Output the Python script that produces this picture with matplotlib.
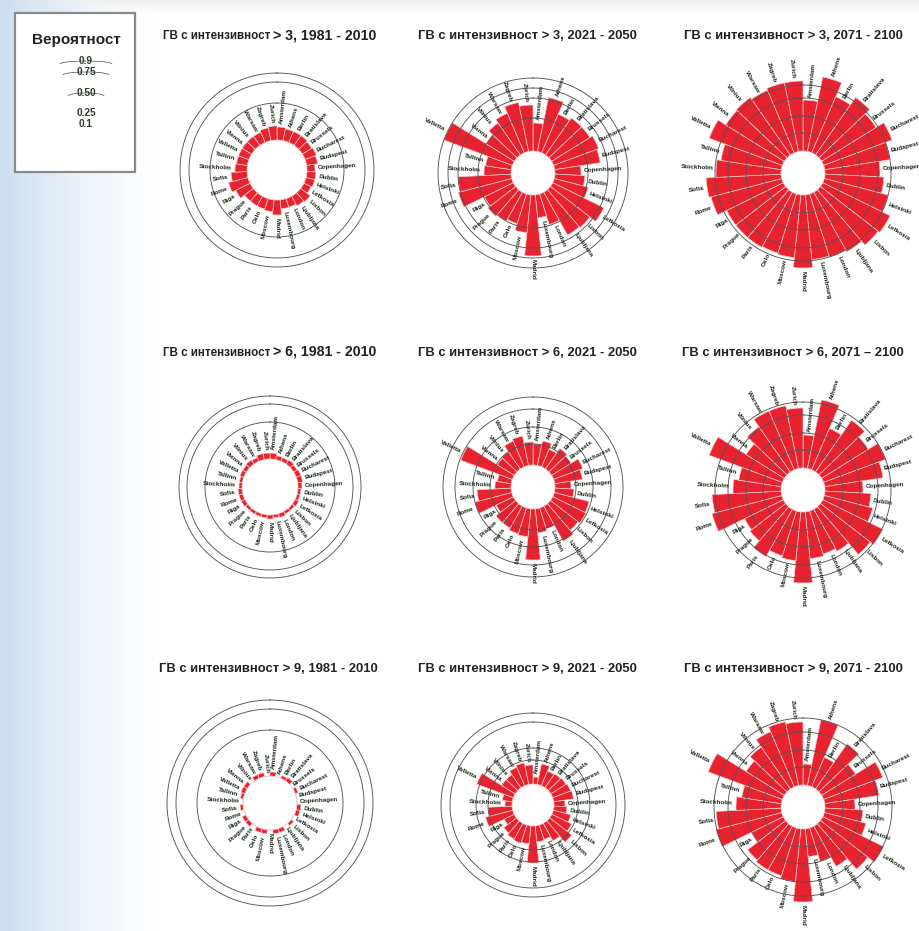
import numpy as np
import matplotlib.pyplot as plt
from matplotlib.patches import Rectangle, Arc

plt.rcParams['font.family'] = ['Liberation Sans', 'DejaVu Sans']

W, H = 920, 931

cities = ['Amsterdam', 'Athens', 'Berlin', 'Bratislava', 'Brussels', 'Bucharest',
          'Budapest', 'Copenhagen', 'Dublin', 'Helsinki', 'Lefkosia', 'Lisbon',
          'Ljubljana', 'London', 'Luxembourg', 'Madrid', 'Moscow', 'Oslo', 'Paris',
          'Prague', 'Riga', 'Rome', 'Sofia', 'Stockholm', 'Tallinn', 'Valletta',
          'Vienna', 'Vilnius', 'Warsaw', 'Zagreb', 'Zurich']

thresholds = ['> 3', '> 6', '> 9']
periods = ['1981 - 2010', '2021 - 2050', '2071 - 2100']

# bar lengths above the inner hole (radial units), one list per panel
p3_1981 = [13, 12, 12, 12, 11, 12, 11, 8, 9, 9, 8, 12, 11, 9, 9, 15, 12, 11, 11, 11, 16, 20, 16, 12, 11, 11, 11, 11, 11, 13, 14]
p3_2021 = [28, 55, 42, 45, 45, 48, 46, 26, 30, 35, 57, 50, 49, 32, 23, 61, 38, 31, 33, 35, 32, 55, 53, 27, 26, 73, 33, 39, 43, 50, 46]
p3_2071 = [51, 76, 61, 70, 64, 73, 66, 55, 59, 66, 75, 73, 68, 66, 65, 73, 63, 62, 63, 63, 63, 73, 75, 65, 61, 78, 69, 70, 68, 70, 70]
p6_1981 = [6, 4, 4, 5, 4, 5, 5, 4, 3, 3, 4, 3, 3, 4, 3, 4, 3, 3, 3, 3, 4, 4, 4, 3, 3, 4, 4, 5, 4, 6, 6]
p6_2021 = [21, 25, 19, 25, 23, 31, 28, 16, 19, 36, 37, 35, 40, 22, 24, 51, 28, 27, 25, 25, 19, 38, 34, 16, 14, 55, 20, 21, 28, 30, 23]
p6_2071 = [33, 70, 45, 63, 55, 66, 59, 38, 46, 50, 67, 63, 48, 45, 47, 71, 49, 47, 54, 45, 43, 72, 69, 48, 43, 78, 45, 55, 64, 64, 60]
p9_1981 = [4, 0, 3, 4, 0, 3, 0, 0, 4, 4, 0, 3, 0, 4, 4, 0, 4, 4, 0, 4, 4, 0, 3, 0, 3, 4, 4, 0, 4, 4, 0]
p9_2021 = [7, 21, 16, 17, 18, 19, 20, 11, 13, 18, 22, 28, 20, 15, 16, 37, 18, 19, 18, 16, 11, 28, 24, 7, 10, 39, 16, 16, 20, 22, 19]
p9_2071 = [21, 67, 32, 55, 40, 63, 55, 30, 38, 43, 68, 60, 46, 35, 28, 73, 53, 50, 50, 48, 35, 68, 65, 45, 40, 79, 45, 51, 60, 65, 63]

values = [[p3_1981, p3_2021, p3_2071],
          [p6_1981, p6_2021, p6_2071],
          [p9_1981, p9_2021, p9_2071]]

holes = [[30, 22, 22],
         [28, 22, 22],
         [27, 21, 22]]

# probability circles of every panel
rings = [[[67, 88, 97], [55, 75, 85, 95], [40, 57, 75, 88]],
         [[65, 83, 91], [43, 60, 78, 90], [40, 57, 75, 88]],
         [[73, 94, 103], [45, 57, 83, 92], [40, 57, 75, 89]]]

centers = [[(277, 170), (533, 173), (803, 173)],
           [(270, 487), (533, 487), (803, 490)],
           [(270, 803), (533, 805), (803, 807)]]

title_y = [35, 352, 668]
legend_levels = ['0.9', '0.75', '0.50', '0.25', '0.1']

RED = '#e8222f'
INK = '#1a271a'


def draw_panel(ax, lengths, hole, ring_r):
    n = len(cities)
    width = 2 * np.pi / n
    theta = np.arange(n) * width
    ax.set_theta_zero_location('N')
    ax.set_theta_direction(-1)
    ax.bar(theta, lengths, width=width, bottom=hole, align='edge',
           color=RED, edgecolor='#f4cccc', linewidth=0.5)
    t = np.linspace(0, 2 * np.pi, 361)
    for r in ring_r:
        ax.plot(t, np.full_like(t, r), color='#555555', lw=0.65)
    for i, name in enumerate(cities):
        a = (i + 0.5) * 360 / n
        r = hole + lengths[i] + 3
        if a <= 180:
            rot, ha = 90 - a, 'left'
        else:
            rot, ha = 270 - a, 'right'
        ax.text(np.deg2rad(a), r, name, rotation=rot, ha=ha, va='center',
                rotation_mode='anchor', fontsize=4.6, fontweight='bold', color=INK)
    ax.set_ylim(0, 112)
    ax.set_axis_off()


fig = plt.figure(figsize=(W / 100, H / 100), dpi=100)

# background: pale blue haze fading out from the left edge
bg = fig.add_axes([0, 0, 1, 1])
img = np.ones((H, W, 3))
xs = np.arange(W)
fade = np.clip(1 - xs / 160.0, 0, 1) ** 1.3
tint = np.array([0.80, 0.87, 0.94])
for c in range(3):
    img[:, :, c] = 1 - (1 - tint[c]) * fade[None, :]
top = np.clip(1 - np.arange(14) / 14.0, 0, 1)
img[:14, :, :] = np.minimum(img[:14, :, :], 1 - 0.06 * top[:, None, None])
bg.imshow(img, extent=[0, W, H, 0], aspect='auto')
bg.set_xlim(0, W)
bg.set_ylim(H, 0)
bg.set_axis_off()

# legend box
bg.add_patch(Rectangle((15, 13), 120, 159, facecolor='white', edgecolor='#8a8a8a', lw=1.6))
bg.text(76, 40, 'Вероятност', ha='center', va='center', fontsize=11, fontweight='bold', color='#222222')
ly = [61, 72, 93, 113, 124]
arc_w = [52, 46, 36, 0, 0]
for lab, y, w in zip(legend_levels, ly, arc_w):
    bg.text(86, y, lab, ha='center', va='center', fontsize=7.3, fontweight='bold', color='#2f3f2f')
    if w:
        bg.add_patch(Arc((86, y + 3), w, 6, theta1=180, theta2=360, color='#4a4a4a', lw=0.5))

# titles
for row in range(3):
    y = title_y[row] + 4
    for col in range(3):
        head = 'ГВ с интензивност'
        tail = '%s, %s' % (thresholds[row], periods[col])
        if row == 1 and col == 2:
            tail = tail.replace(' - ', ' – ')
        if col == 0 and row < 2:
            bg.text(270, y, head, ha='right', va='baseline', fontsize=8.4, fontweight='bold', color='#222222')
            bg.text(273, y, tail, ha='left', va='baseline', fontsize=10.2, fontweight='bold', color='#222222')
        else:
            cx = [268, 527, 793][col]
            bg.text(cx, y, head + ' ' + tail, ha='center', va='baseline', fontsize=9.4,
                    fontweight='bold', color='#222222')

R = 112
for row in range(3):
    for col in range(3):
        cx, cy = centers[row][col]
        ax = fig.add_axes([(cx - R) / W, 1 - (cy + R) / H, 2 * R / W, 2 * R / H], projection='polar')
        draw_panel(ax, values[row][col], holes[row][col], rings[row][col])

fig.savefig('out.png', dpi=100)
